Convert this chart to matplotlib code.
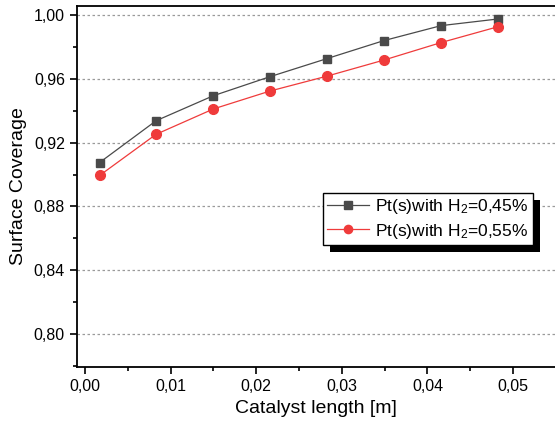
import matplotlib
matplotlib.use("Agg")
import matplotlib.pyplot as plt
from matplotlib.ticker import FuncFormatter, MultipleLocator
from matplotlib.patches import Rectangle

plt.rcParams['font.family'] = ['Liberation Sans', 'DejaVu Sans']
plt.rcParams['mathtext.fontset'] = 'custom'
plt.rcParams['mathtext.rm'] = 'Liberation Sans'
plt.rcParams['mathtext.it'] = 'Liberation Sans'

# ── data ──
length = [0.0017, 0.0083, 0.0150, 0.0216, 0.0283, 0.0349, 0.0416, 0.0483]
cov_045 = [0.9075, 0.9337, 0.9494, 0.9613, 0.9727, 0.9839, 0.9933, 0.9975]
cov_055 = [0.8994, 0.9252, 0.9411, 0.9523, 0.9617, 0.9717, 0.9827, 0.9927]
label_045 = 'Pt(s)with H$_2$=0,45%'
label_055 = 'Pt(s)with H$_2$=0,55%'

fig = plt.figure(figsize=(5.55, 4.28), dpi=100)
ax = fig.add_axes([0.1382, 0.1432, 0.8618, 0.8428])

ax.plot(length, cov_045, '-s', color='#4a4a4a', lw=0.9, ms=6, label=label_045)
ax.plot(length, cov_055, '-o', color='#ef3b3b', lw=0.9, ms=7, label=label_055)

ax.set_xlim(-0.00097, 0.0549)
ax.set_ylim(0.7796, 1.0056)
ax.xaxis.set_major_locator(MultipleLocator(0.01))
ax.xaxis.set_minor_locator(MultipleLocator(0.005))
ax.yaxis.set_major_locator(MultipleLocator(0.04))
ax.yaxis.set_minor_locator(MultipleLocator(0.02))
ax.xaxis.set_major_formatter(FuncFormatter(lambda v, p: f'{v:.2f}'.replace('.', ',')))
ax.yaxis.set_major_formatter(FuncFormatter(lambda v, p: f'{v:.2f}'.replace('.', ',')))
ax.tick_params(which='major', direction='out', length=5, width=1.2, labelsize=11.5,
               top=False, right=False)
ax.tick_params(which='minor', direction='out', length=3, width=1.2, top=False, right=False)

ax.yaxis.grid(True, which='major', linestyle=(0, (2, 2)), color='#9a9a9a', lw=0.9)
ax.set_axisbelow(True)
for s in ['left', 'bottom', 'top']:
    ax.spines[s].set_linewidth(1.3)
ax.spines['right'].set_visible(False)

ax.set_xlabel('Catalyst length [m]', fontsize=14, labelpad=5)
ax.set_ylabel('Surface Coverage', fontsize=14, labelpad=5)

leg = ax.legend(loc='upper right', bbox_to_anchor=(0.954, 0.4816), borderaxespad=0,
                fontsize=12.5, fancybox=False, edgecolor='black', framealpha=1,
                handlelength=2.4, handletextpad=0.4, borderpad=0.25, labelspacing=0.3,
                markerscale=0.85)
leg.get_frame().set_linewidth(1.0)
leg.set_zorder(10)

# black drop shadow behind the legend
fig.canvas.draw()
bb = leg.get_window_extent()
shadow = Rectangle((bb.x0 + 7, bb.y0 - 7), bb.width, bb.height, transform=None,
                   facecolor='black', edgecolor='none', zorder=9, clip_on=False)
ax.add_artist(shadow)

fig.savefig('out.png', dpi=100)
